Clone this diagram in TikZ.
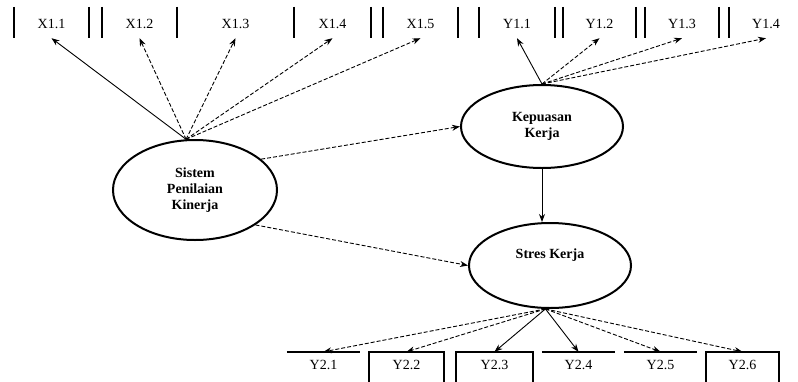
\documentclass[tikz,border=0pt]{standalone}
\usepackage{fontspec}
\setmainfont{Liberation Serif}
\usetikzlibrary{shapes.geometric,arrows.meta}
\begin{document}
\begin{tikzpicture}[x=1pt,y=-1pt,
  lat/.style={ellipse,draw,line width=2pt,inner sep=0pt,font=\fontsize{14}{16}\selectfont\bfseries,align=center},
  ind/.style={inner xsep=0pt,inner ysep=0pt,font=\fontsize{14}{15}\selectfont,text height=21.5pt,text depth=9.5pt},
  indb/.style={inner xsep=0pt,inner ysep=4.5pt,font=\fontsize{14}{15}\selectfont,text height=13pt,text depth=30pt},
  edge/.style={line width=1.6pt},
  arr/.style={-{Stealth[length=8pt,width=6pt]},line width=0.9pt},
  dsh/.style={arr,dash pattern=on 4pt off 2pt}]
\useasboundingbox (0,0) rectangle (798,381);
\clip (0,0) rectangle (798,381);
% latent variables
\node[lat,minimum width=164pt,minimum height=100pt] (sis) at (195,190) {Sistem\\Penilaian\\Kinerja};
\node[lat,minimum width=162pt,minimum height=83pt] (kep) at (542,126.5) {Kepuasan\\Kerja};
\node[lat,minimum width=162pt,minimum height=85pt,text height=10pt,text depth=24pt] (str) at (550,265.5) {Stres Kerja};
% top indicators
\node[ind,minimum width=75pt] (x11) at (51.5,22.5) {X1.1};
\node[ind,minimum width=75pt] (x12) at (139.5,22.5) {X1.2};
\node[ind,minimum width=117pt] (x13) at (235.5,22.5) {X1.3};
\node[ind,minimum width=77pt] (x14) at (332.5,22.5) {X1.4};
\node[ind,minimum width=75pt] (x15) at (420.5,22.5) {X1.5};
\node[ind,minimum width=76pt] (y11) at (517,22.5) {Y1.1};
\node[ind,minimum width=73pt] (y12) at (599.5,22.5) {Y1.2};
\node[ind,minimum width=74pt] (y13) at (682,22.5) {Y1.3};
\node[ind,minimum width=74pt] (y14) at (766,22.5) {Y1.4};
\foreach \n in {x11,x12,x13,x14,x15,y11,y12,y13}
  \draw[edge] (\n.north west) -- (\n.south west) (\n.north east) -- (\n.south east);
\draw[edge] (y14.north west) -- (y14.south west);
% bottom indicators
\node[indb,minimum width=73pt] (y21) at (323.5,378) {Y2.1};
\node[indb,minimum width=75pt] (y22) at (406.5,378) {Y2.2};
\node[indb,minimum width=77pt] (y23) at (494.5,378) {Y2.3};
\node[indb,minimum width=73pt] (y24) at (578.5,378) {Y2.4};
\node[indb,minimum width=73pt] (y25) at (660.5,378) {Y2.5};
\node[indb,minimum width=73pt] (y26) at (742.5,378) {Y2.6};
\foreach \n in {y21,y24,y25}
  \draw[edge] (\n.north west) -- (\n.north east);
\foreach \n in {y22,y23,y26}
  \draw[edge] (\n.south west) rectangle (\n.north east);
% structural paths
\draw[dsh] (sis.25) -- (kep.west);
\draw[dsh] (sis.-30) -- (str.west);
\draw[arr] (kep.south) -- (kep.south |- str.north);
% loadings
\draw[arr] (sis.100) -- (x11.south);
\draw[dsh] (sis.100) -- (x12.south);
\draw[dsh] (sis.100) -- (x13.south);
\draw[dsh] (sis.100) -- (x14.south);
\draw[dsh] (sis.100) -- (x15.south);
\draw[arr] (kep.north) -- (y11.south);
\draw[dsh] (kep.north) -- (y12.south);
\draw[dsh] (kep.north) -- (y13.south);
\draw[dsh] (kep.north) -- (y14.south);
\draw[dsh] (str.264) -- (y21.north);
\draw[dsh] (str.264) -- (y22.north);
\draw[arr] (str.264) -- (y23.north);
\draw[arr] (str.264) -- (y24.north);
\draw[dsh] (str.264) -- (y25.north);
\draw[dsh] (str.264) -- (y26.north);
\end{tikzpicture}
\end{document}
